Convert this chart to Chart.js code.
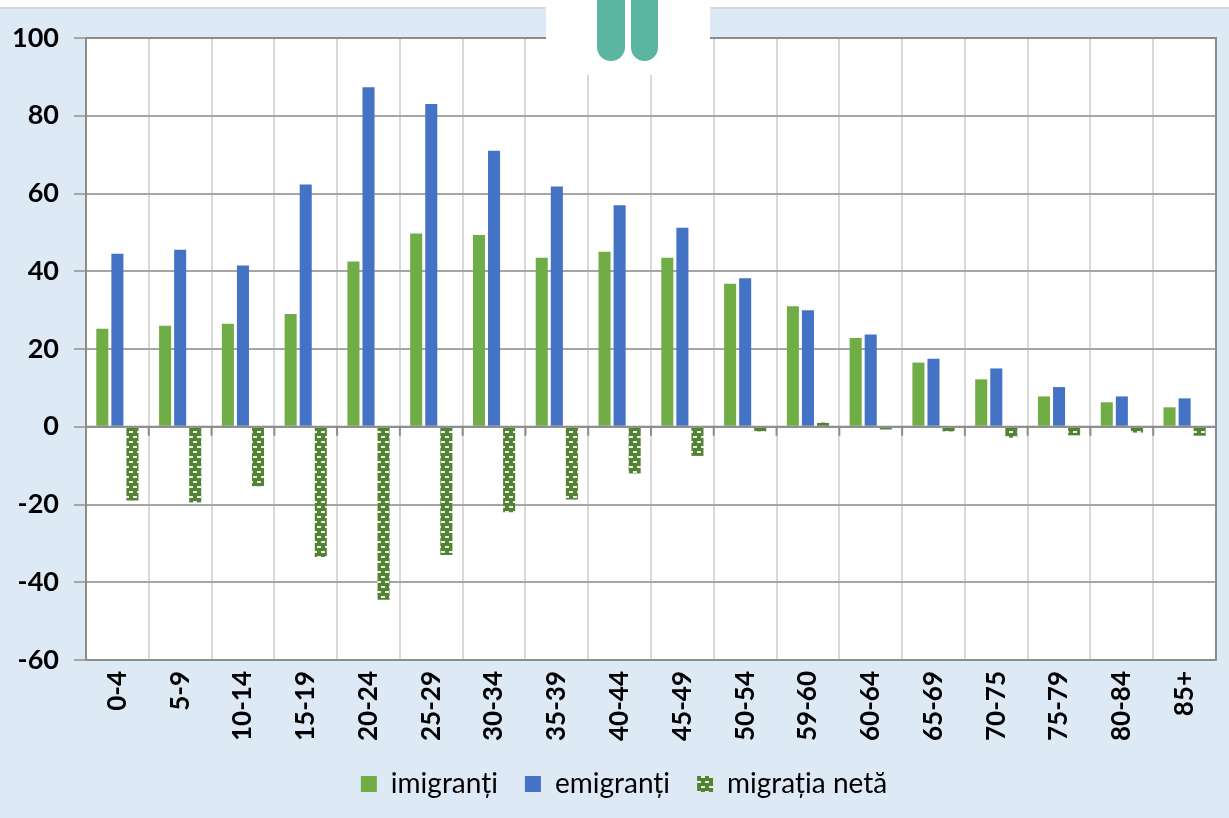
<!DOCTYPE html>
<html>
<head>
<meta charset="utf-8">
<script src="https://cdn.jsdelivr.net/npm/chart.js@4/dist/chart.umd.min.js"></script>
<style>
body { margin: 0; background: #dde9f5; }
canvas { position: absolute; left: 0; top: 0; }
.mask { position: absolute; background: #fff; }
.pill { position: absolute; top: 0; height: 61px; background: #5bb5a2; border-radius: 0 0 14px 14px; }
</style>
</head>
<body>
<canvas id="MigrationChart" width="1229" height="818"></canvas>
<div class="mask" style="left:0;top:0;width:1229px;height:7px"></div>
<div class="mask" style="left:0;top:7px;width:1229px;height:2px;background:#d9d9d9"></div>
<div class="mask" style="left:546px;top:0;width:164px;height:75px"></div>
<div class="pill" style="left:597px;width:28px"></div>
<div class="pill" style="left:631px;width:27px"></div>
<script>
const ageGroups = ['0-4', '5-9', '10-14', '15-19', '20-24', '25-29', '30-34', '35-39', '40-44', '45-49', '50-54', '59-60', '60-64', '65-69', '70-75', '75-79', '80-84', '85+'];
const immigrants = [25.2, 26, 26.5, 29, 42.5, 49.7, 49.3, 43.5, 45, 43.5, 36.8, 31, 22.8, 16.5, 12.2, 7.8, 6.3, 5];
const emigrants = [44.5, 45.5, 41.5, 62.3, 87.3, 83, 71, 61.8, 57, 51.2, 38.2, 30, 23.7, 17.5, 15, 10.2, 7.8, 7.3];
const netMigration = [-19, -19.5, -15.3, -33.5, -44.5, -33, -22, -18.7, -12, -7.5, -1.2, 1.1, -0.7, -1.2, -2.8, -2.2, -1.5, -2.3];

function makeHatch() {
    const tile = document.createElement('canvas');
    tile.width = 8;
    tile.height = 10;
    const t = tile.getContext('2d');
    t.fillStyle = '#548235';
    t.fillRect(0, 0, 8, 10);
    t.fillStyle = '#e8f0e0';
    t.fillRect(1, 1, 4, 2);
    t.fillRect(5, 6, 3, 2);
    t.fillRect(0, 6, 1, 2);
    return document.getElementById('MigrationChart').getContext('2d').createPattern(tile, 'repeat');
}

const plotBackground = {
    id: 'plotBackground',
    beforeDraw(chart) {
        const a = chart.chartArea;
        chart.ctx.fillStyle = '#fff';
        chart.ctx.fillRect(a.left, a.top, a.right - a.left, a.bottom - a.top);
    },
    afterLayout(chart) {
        chart.legend.left += 16;
        chart.legend.right += 16;
    },
    afterDatasetsDraw(chart) {
        // plot frame and zero line with the category tick marks
        const ctx = chart.ctx, x = chart.scales.x, zero = chart.scales.y.getPixelForValue(0);
        const a = chart.chartArea;
        ctx.save();
        ctx.strokeStyle = '#8c8c8c';
        ctx.lineWidth = 2;
        ctx.strokeRect(a.left, a.top, a.right - a.left, a.bottom - a.top);
        ctx.beginPath();
        ctx.moveTo(a.left, zero);
        ctx.lineTo(a.right, zero);
        for (let i = 0; i <= ageGroups.length; i++) {
            const px = x.getPixelForValue(i) - (x.getPixelForValue(1) - x.getPixelForValue(0)) / 2;
            ctx.moveTo(px, zero);
            ctx.lineTo(px, zero + 9);
        }
        ctx.stroke();
        ctx.restore();
    }
};

new Chart(document.getElementById('MigrationChart'), {
    type: 'bar',
    data: {
        labels: ageGroups,
        datasets: [
            { label: 'imigranți', data: immigrants, backgroundColor: '#70ad47' },
            { label: 'emigranți', data: emigrants, backgroundColor: '#4472c4' },
            { label: 'migrația netă', data: netMigration, backgroundColor: makeHatch() }
        ]
    },
    options: {
        responsive: false,
        animation: false,
        layout: { padding: { top: 38, right: 13, bottom: 10 } },
        datasets: { bar: { categoryPercentage: 0.72, barPercentage: 0.8 } },
        scales: {
            x: {
                grid: { offset: true, color: '#d9d9d9', lineWidth: 2, drawTicks: false },
                border: { display: false },
                afterFit(s) { s.height = 83; },
                ticks: {
                    maxRotation: 90,
                    minRotation: 90,
                    autoSkip: false,
                    padding: 11,
                    color: '#000',
                    font: { family: 'Lato', weight: 'bold', size: 26 }
                }
            },
            y: {
                min: -60,
                max: 100,
                grid: { color: '#a6a6a6', lineWidth: 2, tickLength: 12 },
                border: { color: '#8c8c8c', width: 2 },
                afterFit(s) { s.width = 86; },
                ticks: {
                    stepSize: 20,
                    padding: 15,
                    color: '#000',
                    font: { family: 'Lato', weight: 'bold', size: 27 }
                }
            }
        },
        plugins: {
            title: { display: false },
            tooltip: { enabled: false },
            legend: {
                position: 'bottom',
                labels: {
                    boxWidth: 16,
                    boxHeight: 16,
                    padding: 27,
                    color: '#000',
                    font: { family: 'Lato', size: 28 }
                }
            }
        }
    },
    plugins: [plotBackground]
});
</script>
</body>
</html>
